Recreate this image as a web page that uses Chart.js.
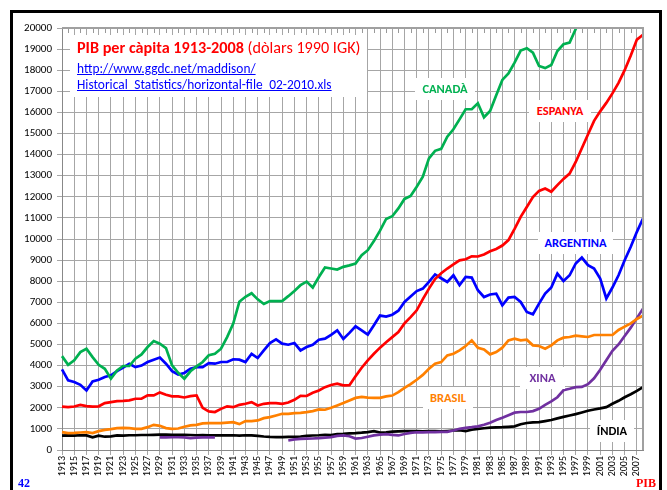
<!DOCTYPE html>
<html>
<head>
<meta charset="utf-8">
<script src="https://cdn.jsdelivr.net/npm/chart.js@4.4.1/dist/chart.umd.min.js"></script>
<style>
  html, body { margin:0; padding:0; background:#fff; }
  body { width:667px; height:490px; position:relative; overflow:hidden; font-family: Carlito, Lato, "Liberation Sans", sans-serif; }
  #frame { position:absolute; left:10px; top:10px; width:646px; height:520px; border:3px solid #000; box-sizing:content-box; }
  #c { position:absolute; left:0; top:0; }
  .lbl { position:absolute; background:#fff; font-weight:bold; font-size:12.5px; text-align:center; white-space:nowrap; line-height:22px; }
  #titlebox { position:absolute; left:70px; top:35px; width:297px; height:62px; background:#fff; }
  #t1 { position:absolute; left:7px; top:3px; color:#ff0000; font-size:16.2px; white-space:nowrap; }
  #t2, #t3 { position:absolute; left:7px; color:#0000ff; text-decoration:underline; font-size:13.4px; white-space:nowrap; }
  #t2 { top:25px; } #t3 { top:41px; }
  .foot { position:absolute; font-family:"Liberation Serif", serif; font-weight:bold; font-size:12px; top:476px; }
</style>
</head>
<body>
<div id="frame"></div>
<canvas id="c" width="667" height="490"></canvas>
<div id="titlebox">
  <div id="t1"><b>PIB per càpita 1913-2008</b> (dòlars 1990 IGK)</div>
  <div id="t2">http://www.ggdc.net/maddison/</div>
  <div id="t3">Historical_Statistics/horizontal-file_02-2010.xls</div>
</div>
<div class="lbl" style="left:415px;top:78px;width:60px;color:#00b050;">CANADÀ</div>
<div class="lbl" style="left:529px;top:100px;width:62px;color:#ff0000;">ESPANYA</div>
<div class="lbl" style="left:538px;top:232px;width:75px;color:#0000ff;">ARGENTINA</div>
<div class="lbl" style="left:423px;top:387px;width:50px;color:#ff8000;">BRASIL</div>
<div class="lbl" style="left:520px;top:367px;width:45px;color:#7030a0;">XINA</div>
<div class="lbl" style="left:590px;top:420px;width:44px;color:#000;">ÍNDIA</div>
<div class="foot" style="left:18px;color:#0000ff;">42</div>
<div class="foot" style="left:636px;color:#ff0000;">PIB</div>
<script>
const years = [1913,1914,1915,1916,1917,1918,1919,1920,1921,1922,1923,1924,1925,1926,1927,1928,1929,1930,1931,1932,1933,1934,1935,1936,1937,1938,1939,1940,1941,1942,1943,1944,1945,1946,1947,1948,1949,1950,1951,1952,1953,1954,1955,1956,1957,1958,1959,1960,1961,1962,1963,1964,1965,1966,1967,1968,1969,1970,1971,1972,1973,1974,1975,1976,1977,1978,1979,1980,1981,1982,1983,1984,1985,1986,1987,1988,1989,1990,1991,1992,1993,1994,1995,1996,1997,1998,1999,2000,2001,2002,2003,2004,2005,2006,2007,2008];

const canada = [4450,4040,4250,4640,4800,4400,4040,3850,3380,3770,3980,3980,4330,4530,4880,5160,5040,4830,4010,3660,3380,3730,3960,4170,4490,4560,4800,5350,5990,7030,7260,7430,7140,6920,7060,7060,7060,7290,7540,7810,7980,7700,8200,8650,8600,8550,8680,8750,8840,9230,9470,9900,10400,10950,11080,11450,11900,12040,12480,12950,13820,14180,14270,14850,15200,15670,16150,16150,16430,15770,16070,16810,17540,17850,18360,18930,19040,18830,18200,18100,18250,18910,19230,19310,19950,20600,21400,22300,22500,22900,23100,23600,24100,24500,24900,25000];

const espanya = [2060,2030,2060,2140,2080,2060,2070,2220,2270,2320,2330,2350,2430,2430,2590,2590,2730,2620,2540,2540,2490,2550,2590,2000,1830,1800,1950,2070,2030,2140,2190,2270,2110,2190,2220,2220,2190,2250,2380,2570,2560,2710,2820,2980,3080,3140,3061,3070,3500,3900,4250,4560,4850,5110,5350,5590,6000,6300,6620,7150,7650,8100,8380,8600,8800,8990,9040,9180,9170,9270,9420,9530,9690,9950,10480,11050,11520,11990,12280,12390,12240,12550,12850,13100,13650,14300,14950,15600,16050,16450,16900,17400,18000,18700,19450,19680];

const argentina = [3820,3300,3220,3090,2820,3250,3330,3460,3540,3740,3900,4090,3930,4000,4170,4280,4380,4090,3740,3580,3650,3850,3930,3930,4120,4090,4170,4170,4300,4280,4170,4560,4360,4720,5070,5240,5040,4990,5070,4720,4880,4990,5230,5280,5460,5672,5260,5550,5860,5670,5470,5910,6370,6320,6410,6600,7015,7270,7530,7650,7966,8320,8140,7966,8280,7810,8200,8170,7570,7250,7370,7410,6860,7220,7250,7015,6540,6430,6940,7410,7700,8360,8010,8280,8840,9120,8760,8600,8130,7180,7700,8280,8990,9630,10340,10970];

const brasil = [846,800,810,830,846,800,894,957,989,1036,1052,1036,1004,1004,1083,1194,1147,1040,1004,1020,1100,1170,1190,1258,1273,1273,1273,1300,1321,1226,1370,1370,1400,1510,1558,1637,1716,1716,1750,1764,1795,1843,1922,1907,2002,2112,2223,2350,2470,2520,2480,2470,2470,2539,2580,2740,2940,3120,3330,3560,3850,4091,4168,4485,4564,4722,4930,5197,4849,4770,4533,4642,4849,5197,5278,5197,5230,4960,4928,4801,4960,5197,5325,5356,5420,5387,5356,5450,5450,5450,5450,5688,5846,6004,6210,6368];

const xina = [null,null,null,null,null,null,null,null,null,null,null,null,null,null,null,null,600,600,605,605,600,565,585,600,600,600,null,null,null,null,null,null,null,null,null,null,null,450,500,530,540,545,560,590,610,670,690,650,540,570,630,690,730,750,720,690,760,810,840,840,850,850,860,860,925,1004,1050,1080,1120,1200,1290,1420,1530,1650,1770,1800,1800,1843,1950,2140,2300,2500,2830,2900,2980,2990,3120,3400,3800,4250,4700,5000,5400,5800,6250,6700];

const india = [680,690,680,700,690,600,680,630,650,690,680,700,700,710,710,720,730,730,720,720,720,710,700,710,690,690,690,690,700,680,700,690,670,641,620,610,609,619,625,641,665,688,700,720,710,750,760,790,800,820,850,894,830,840,870,878,890,900,894,880,900,900,880,900,925,940,900,960,1000,1030,1060,1070,1080,1100,1120,1220,1280,1310,1320,1370,1420,1500,1570,1637,1700,1780,1860,1920,1970,2033,2190,2330,2500,2640,2800,2980];

const yTicks = [0,1000,2000,3000,4000,5000,6000,7000,8000,9000,10000,11000,12000,13000,14000,15000,16000,17000,18000,19000,20000];

const FONT = 'Carlito, Lato, "Liberation Sans", sans-serif';

const framePlugin = {
  id: 'framePlugin',
  afterDraw(chart) {
    const {ctx, chartArea:a, scales:{x}} = chart;
    ctx.save();
    ctx.strokeStyle = '#999';
    ctx.lineWidth = 1;
    ctx.beginPath();
    for (let i = 1; i < years.length; i += 2) {
      const px = Math.round(x.getPixelForTick(i)) + 0.5;
      ctx.moveTo(px, a.top); ctx.lineTo(px, a.top + 5);
    }
    ctx.stroke();
    ctx.lineWidth = 2;
    ctx.strokeStyle = '#a0a0a0';
    ctx.beginPath();
    ctx.moveTo(a.left, a.top); ctx.lineTo(a.right, a.top); ctx.lineTo(a.right, a.bottom);
    ctx.stroke();
    ctx.restore();
  }
};

const mk = (data, color) => ({ data, borderColor: color, backgroundColor: color, borderWidth: 2.7, pointRadius: 0, tension: 0, spanGaps: false, fill: false });

new Chart(document.getElementById('c'), {
  type: 'line',
  data: {
    labels: years,
    datasets: [
      mk(canada, '#00b050'),
      mk(espanya, '#ff0000'),
      mk(argentina, '#0000ff'),
      mk(brasil, '#ff8000'),
      mk(xina, '#7030a0'),
      mk(india, '#000000')
    ]
  },
  options: {
    responsive: false,
    animation: false,
    layout: { padding: { left: 10, top: 28, right: 24, bottom: 5 } },
    plugins: { legend: { display: false }, tooltip: { enabled: false } },
    scales: {
      x: {
        type: 'category',
        offset: false,
        border: { color: '#888', width: 1 },
        grid: {
          color: c => (c.index % 2 === 0 ? '#a6a6a6' : 'rgba(0,0,0,0)'),
          lineWidth: 1,
          tickLength: 5
        },
        ticks: {
          autoSkip: false, minRotation: 90, maxRotation: 90, padding: 1,
          color: '#000', font: { family: FONT, size: 10 },
          callback: (v, i) => (i % 2 === 0 ? String(years[i]) : '')
        },
        afterFit: s => { s.height = 35; }
      },
      y: {
        min: 0, max: 20000,
        afterBuildTicks: s => { s.ticks = yTicks.map(v => ({ value: v })); },
        border: { color: '#888', width: 1 },
        grid: { color: '#a6a6a6', lineWidth: 1, tickLength: 5 },
        ticks: { color: '#000', font: { family: FONT, size: 11 }, padding: 5, callback: v => String(v) },
        afterFit: s => { s.width = 52; }
      }
    }
  },
  plugins: [framePlugin]
});
</script>
</body>
</html>
